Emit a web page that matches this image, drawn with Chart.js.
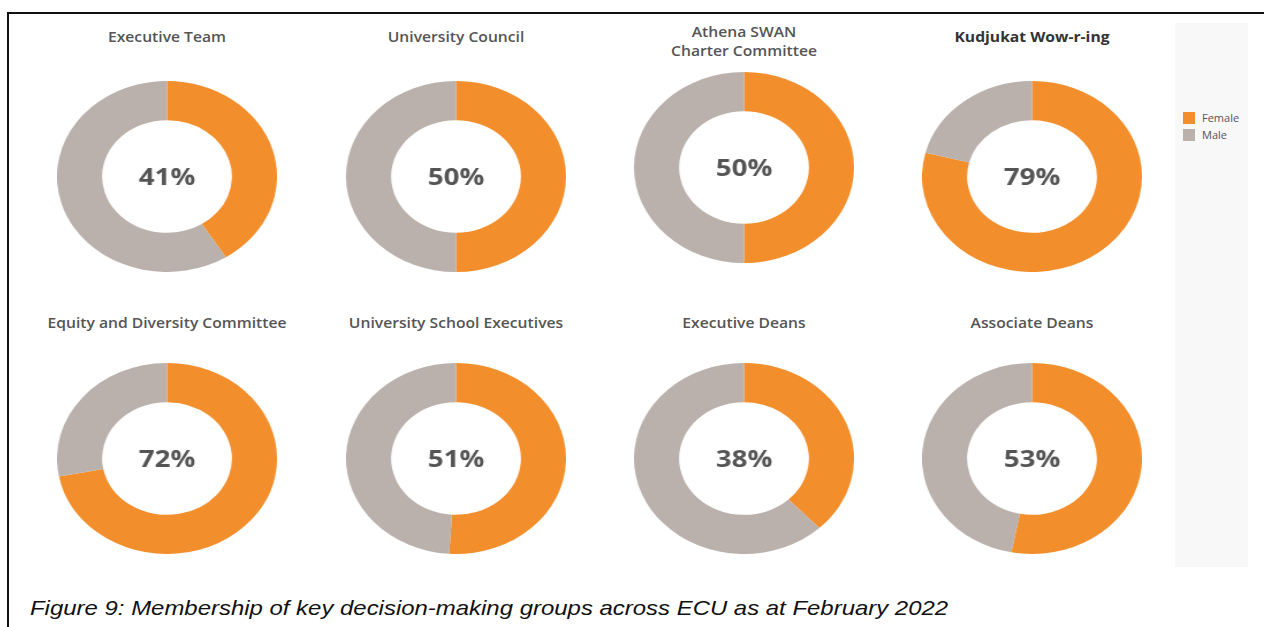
<!DOCTYPE html>
<html>
<head>
<meta charset="utf-8">
<script src="https://cdn.jsdelivr.net/npm/chart.js@4"></script>
<style>
  html, body { margin: 0; padding: 0; background: #fff; }
  body { width: 1264px; height: 627px; position: relative; overflow: hidden; font-family: "Open Sans", sans-serif; }
  .frame { position: absolute; left: 7px; top: 12px; width: 1300px; height: 700px; border-left: 2px solid #111; border-top: 2px solid #111; }
  .panel { position: absolute; left: 1175px; top: 23px; width: 73px; height: 544px; background: #f8f8f8; }
  .title { position: absolute; width: 260px; text-align: center; font-size: 13.5px; font-weight: 600; color: #555; line-height: 19px; transform: scaleX(1.16); }
  .title.dark { color: #333; font-weight: 700; }
  canvas.donut { position: absolute; }
  .leg { position: absolute; left: 1183px; font-size: 11px; color: #555; line-height: 12px; }
  .leg span { display: inline-block; width: 12px; height: 12px; vertical-align: top; margin-right: 7px; }
  .caption { position: absolute; left: 30px; top: 596px; font-family: "Liberation Sans", Arial, sans-serif; font-style: italic; font-size: 21px; color: #111; white-space: nowrap; transform: scaleX(1.14); transform-origin: left center; }
</style>
</head>
<body>
<div class="frame"></div>
<div class="panel"></div>
<div class="leg" style="top:112px"><span style="background:#f28e2b"></span>Female</div>
<div class="leg" style="top:129px"><span style="background:#bab0ac"></span>Male</div>
<div id="grid"></div>
<div class="caption">Figure 9: Membership of key decision-making groups across ECU as at February 2022</div>
<script>
const groups = ['Executive Team', 'University Council', 'Athena SWAN\nCharter Committee', 'Kudjukat Wow-r-ing',
    'Equity and Diversity Committee', 'University School Executives', 'Executive Deans', 'Associate Deans'];
const female = [41, 50, 50, 79, 72, 51, 38, 53];
const male = female.map(v => 100 - v);
const genders = ['Female', 'Male'];
const colours = ['#f28e2b', '#bab0ac'];

// layout of the 4x2 grid
const centreX = [167, 456, 744, 1031.5];
const centreY = [176.5, 458];
const titleY = [38, 324];

const centreText = {
    id: 'centreText',
    afterDatasetsDraw(chart) {
        const arc = chart.getDatasetMeta(0).data[0];
        const c = chart.ctx;
        c.save();
        c.font = 'bold 24px "Open Sans", sans-serif';
        c.fillStyle = '#555';
        c.textAlign = 'center';
        c.textBaseline = 'middle';
        c.fillText(chart.options.plugins.centreText.text, arc.x, arc.y + 2);
        c.restore();
    }
};

const grid = document.getElementById('grid');
groups.forEach((name, i) => {
    const col = i % 4, row = Math.floor(i / 4);
    const cx = centreX[col];
    const cy = (i === 2) ? 167 : centreY[row];

    const t = document.createElement('div');
    t.className = 'title' + (i === 3 ? ' dark' : '');
    const lines = name.split('\n');
    t.innerHTML = lines.join('<br>');
    t.style.left = (cx - 130) + 'px';
    t.style.top = (lines.length > 1 ? 23 : titleY[row] - 10) + 'px';
    grid.appendChild(t);

    const cv = document.createElement('canvas');
    cv.className = 'donut';
    cv.width = 191;
    cv.height = 191;
    cv.style.width = '220px';
    cv.style.height = '191px';
    cv.style.left = (cx - 110) + 'px';
    cv.style.top = (cy - 95.5) + 'px';
    grid.appendChild(cv);

    new Chart(cv, {
        type: 'doughnut',
        data: {
            labels: genders,
            datasets: [{
                data: [female[i], male[i]],
                backgroundColor: colours,
                borderWidth: 0
            }]
        },
        options: {
            responsive: false,
            animation: false,
            cutout: '59%',
            layout: { padding: 0 },
            plugins: {
                legend: { display: false },
                tooltip: { enabled: false },
                centreText: { text: female[i] + '%' }
            }
        },
        plugins: [centreText]
    });
});
</script>
</body>
</html>
